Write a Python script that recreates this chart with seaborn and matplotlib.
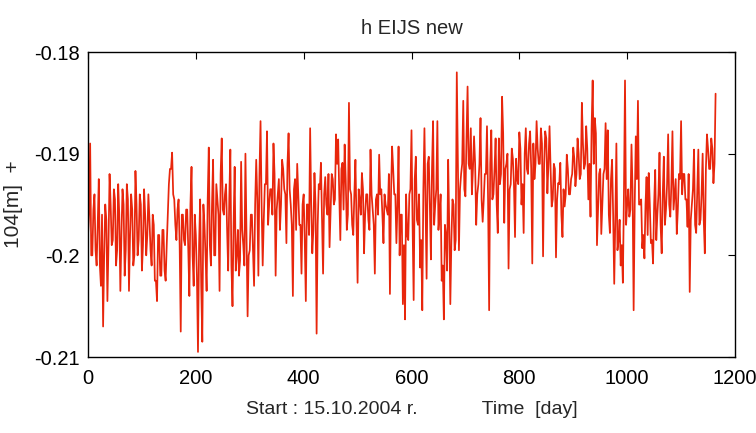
import numpy as np
import pandas as pd
import matplotlib
matplotlib.use("Agg")
import matplotlib.pyplot as plt
import seaborn as sns
from matplotlib.ticker import FuncFormatter

# Height offsets (mm, relative to -0.19 m).
# edge_mm: samples at days 0, 4, 8, ... (spikes and fringe of the band)
edge_mm = [
    # days 0-200
    -8, 1.0, -10, -4, -11, -2.5, -13, -17, -5, -14.5, -2, -9, -3.5, -11, -3, -13.5, -3.5, -12, -3, -13.5,
    -4, -11, -1.7, -10, -4, -11.5, -3.5, -10, -4, -9.5, -6, -12.5, -14.5, -8, -12, -7.5, -12.5, -6, -1.5, 0.1,
    -4.5, -8.5, -4.5, -17.5, -6, -9, -5.5, -14, -1.3, -13, -8,
    # days 204-400
    -19.5, -4.5, -18.5, -7, -13.5, 0.6, -11, -0.6, -10, -4.5, -13.5, 1.5, -6, -3, -11.5, 0.4, -15, -1.3, -10, -12,
    -0.8, -9, 0.0, -16, -9.5, -6, -13, -0.6, -12, 3.2, -11, -3, 2.2, -5, -3.5, 1.0, -12, -4, -7.5, -0.6,
    -3.5, -8.8, 2.0, -5, -14, -2.5, -1, -7, -11.8, -4,
    # days 404-600
    -14.5, -5, 2.5, -9.8, -1.9, -17.7, -3, -0.9, -11.8, -2.3, -6, -9.2, -2, -5, 1.9, 1.4, -8.5, -0.9, 0.9, -7.5,
    5.0, -4, -8, -0.6, -12.7, -4.5, -1.9, -9.8, -4, -6.5, 0.4, -5.5, -11.8, -4, -0.1, -3.5, -8.8, -5, -6, -13.8,
    0.7, -4, -8.8, 0.7, -6, -14.8, -16.3, -8, -4, 2.3,
    # days 604-800
    -14.4, -0.3, -7, -11.2, -15.4, 2.5, -12.3, -0.3, -10.4, 3.2, -5, 3.2, -6, -12.5, -16.3, -8, -0.6, -14.8, -4.5, -9.5,
    8.0, -9.5, -2, 5.2, -4.2, 6.6, -1.5, -4, 1.7, -7, -3, 3.5, -6.7, -2, 2.7, -15.4, 2.3, -4, 1.5, -7.8,
    -3, 5.6, -6.8, -1, -11.3, -3, -0.5, -8.2, -2.5, 2.1,
    # days 804-1000
    -5, -7.8, 2.5, -2, 2.2, -10.8, -2.5, 3.2, -1, 2.5, -10.1, 2.2, -3.9, 2.7, -5.2, -1, -10.2, -2.9, -0.9, -8.2,
    -5.2, -0.1, -4, -2.5, 0.6, -3.2, 1.5, -2.5, 5.0, -1.5, 2.7, -4.5, -6.2, 7.2, 3.5, -9, -2, -7.9, -2, 3,
    2.3, -7.8, -0.6, -12.8, 1, -8.5, -11, -12.7, 7.2, -5,
    # days 1004-1164
    -6.2, 0.9, -15.4, 1.7, 5.2, -5, -9.3, -10.3, -2.3, -1.9, -8.8, -10.8, -1.6, -6, 0.1, -9.8, -0.3, -5.5, 1.9, -6.2,
    2.2, -4, -7.9, -2, 3.2, -2, -4.5, -7.2, -13.6, -5, 0.4, -7.8, 0.4, -6.5, 0.0, -9.8, 1.9, -1.5, 1.5, -2.9,
    5.9,
]
# core_mm: samples at days 2, 6, 10, ... (inside the dense band)
core_mm = [
    # days 2-198
    -6, -10, -5.5, -9.5, -7, -11, -6, -10, -6.5,
    -9, -5, -8.5, -4.5, -9.5, -6, -8, -5, -9.5, -4.5, -8, -5.5, -10, -5, -8.5, -5, -9, -6, -8, -6.5,
    -11, -7, -12.5, -8, -12, -7.5, -11.5,
    -9, -3, -1.5, -4,
    -7, -5.5, -9, -6, -8.5, -5.5,
    -9.5, -5, -10, -6,
    # days 202-398
    -12, -9, -13, -5, -10, -4.5, -9, -5, -10, -3, -6, -2, -5.5, -4, -7.5, -4.5,
    -11, -7, -11.5, -7.5, -10.5, -7.5, -11, -8, -10, -6, -9.5, -5, -4.5, -2, -5,
    -6.5, -3, -7, -3.5, -6, -2, -5.5, -2.5, -5, -1.5, -4, -1, -3.5,
    -7, -3.5, -7.5, -4, -7, -5,
    # days 402-598
    -8.5, -5, -8, -5, -7.5, -5, -7, -3.5, -6.5, -4, -5, -2, -5.5, -2.5, -4.5, -1, -4, -1.5,
    -5.5, -2.5, -6, -3.5, -7, -4, -6.5, -3.5, -6, -3.5, -6, -4,
    -7.5, -4, -7, -4.5, -6, -4, -6, -4, -5.5, -2, -4, -1.5, -4, -5, -10, -6, -9, -4, -8.5, -3.5,
    # days 602-798
    -7, -2.5, -6.5, -4, -8.5, -3.5, -5, -1, -5, -1.5, -7, -3.5, -7.5, -4, -11, -7, -11.5, -7,
    -8.5, -5, -8.5, -1, -3.5, -1, -3.5, 1.5, -1, 2.5, -1.5, -1, -4, -1, -4.5,
    -4.5, -2, -4.5, -1, -4.5, -1.5, -5, 1.5, -2, 2, -1.5, 0, -3.5, 0.5, -3, -0.5, -3,
    # days 802-998
    0.5, -3, 0, -1.5, 1, -1.5, 1, -1, 0.5, -1, 1, -1, 1.5, -1, -1.5, -4.5, -1.5, -4.5,
    -3, -6, -3.5, -4, -1.5, -4, -2, -0.5, -2, 0, -2, 1, -1, 0.5, -1, 2.5, -1, 2,
    -5.5, -1.5, -5, -1.5, -2.5, -6, -2.5, -6, -6.5, -9.5, -6.5, -9, -4, -7,
    # days 1002-1162
    -3.5, -5.5, -3.5, -5, -2.5, -5, -4.5, -8, -5, -8, -5, -8.5, -5, -8.5, -4, -7, -4, -7,
    -3, -5, -3, -5.5, -2.5, -5.5, -2.5, -4, -2, -4.5, -2, -6.5, -3.5, -7, -3.5, -7, -4, -6.5,
    -1.5, 0.5, -1.5, 0.5, -1,
]
h_ref = -0.19           # m
title = "h EIJS new"
ylabel = "104[m]  +"
xlabel = "Start : 15.10.2004 r.            Time  [day]"
xticks = [0, 200, 400, 600, 800, 1000, 1200]
yticks = [-0.21, -0.2, -0.19, -0.18]

edge_day = np.arange(len(edge_mm)) * 4
core_day = np.arange(len(core_mm)) * 4 + 2
df = pd.DataFrame({"day": np.concatenate([edge_day, core_day]),
                   "mm": np.concatenate([edge_mm, core_mm])})
df = df.sort_values("day").reset_index(drop=True)
df["h"] = h_ref + df["mm"] / 1000.0

sns.set_style("white")
plt.rcParams["font.family"] = ["Liberation Sans Narrow", "Liberation Sans", "DejaVu Sans"]

fig = plt.figure(figsize=(7.56, 4.33), dpi=100)
ax = fig.add_axes([88/756, 1-357/433, (735-88)/756, (357-52)/433])
sns.lineplot(data=df, x="day", y="h", ax=ax, color="#e8260c", linewidth=1.25,
             estimator=None, sort=False)

ax.set_xlim(0, 1200)
ax.set_ylim(-0.21, -0.18)
ax.set_xticks(xticks)
ax.set_yticks(yticks)
ax.yaxis.set_major_formatter(FuncFormatter(lambda v, p: "%g" % v))
ax.tick_params(direction="in", length=5, width=0.8, top=True, right=True,
               labelsize=14.5, colors="black")
ax.tick_params(axis="x", pad=9)
ax.tick_params(axis="y", pad=6)
for s in ax.spines.values():
    s.set_color("black")
    s.set_linewidth(1.0)
ax.set_title(title, fontsize=14.5, pad=13)
ax.set_xlabel(xlabel, fontsize=14, labelpad=9)
ax.set_ylabel(ylabel, fontsize=15, labelpad=8)

fig.savefig("out.png", dpi=100, facecolor="white")
